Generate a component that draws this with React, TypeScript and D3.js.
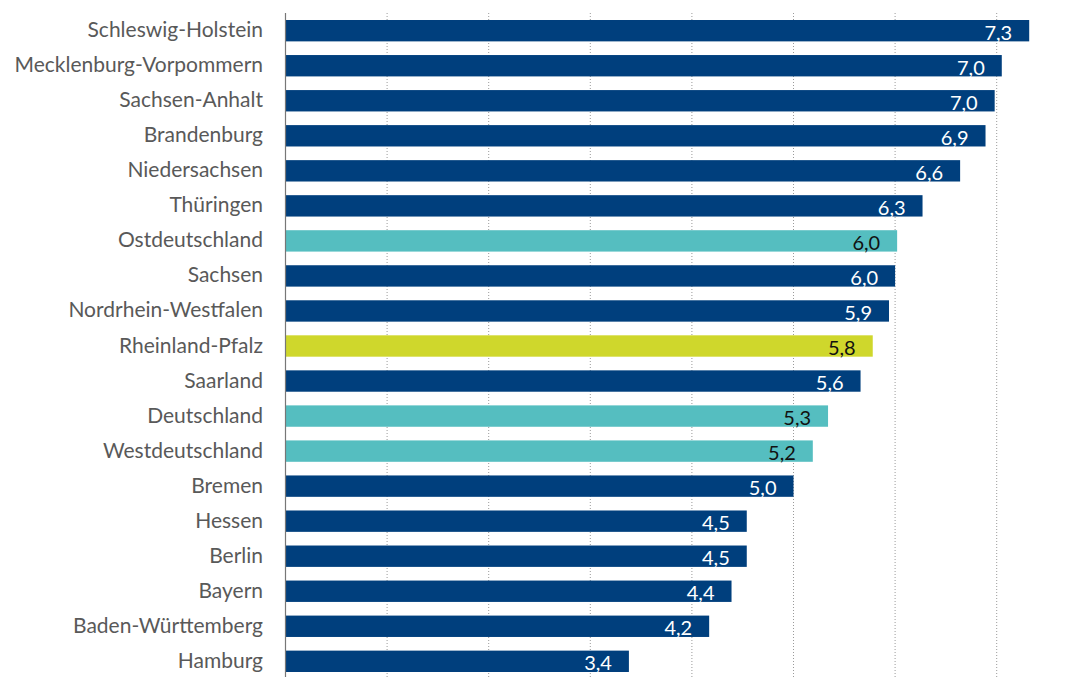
import React from 'react';
import { scaleLinear, scaleBand, range } from 'd3';

const regions = [
  'Schleswig-Holstein', 'Mecklenburg-Vorpommern', 'Sachsen-Anhalt', 'Brandenburg',
  'Niedersachsen', 'Thüringen', 'Ostdeutschland', 'Sachsen', 'Nordrhein-Westfalen',
  'Rheinland-Pfalz', 'Saarland', 'Deutschland', 'Westdeutschland', 'Bremen',
  'Hessen', 'Berlin', 'Bayern', 'Baden-Württemberg', 'Hamburg',
];
const values = [
  7.32, 7.05, 6.98, 6.89, 6.64, 6.27, 6.02, 6.0, 5.94, 5.78,
  5.66, 5.34, 5.19, 5.0, 4.54, 4.54, 4.39, 4.17, 3.38,
];
const valueLabels = [
  '7,3', '7,0', '7,0', '6,9', '6,6', '6,3', '6,0', '6,0', '5,9', '5,8',
  '5,6', '5,3', '5,2', '5,0', '4,5', '4,5', '4,4', '4,2', '3,4',
];
// kind: 0 = Bundesland, 1 = Aggregat, 2 = hervorgehoben
const kinds = [0, 0, 0, 0, 0, 0, 1, 0, 0, 2, 0, 1, 1, 0, 0, 0, 0, 0, 0];
const gridTicks = range(1, 8);

const fills = ['#003f7d', '#55bec0', '#cfd72c'];
const labelColors = ['#ffffff', '#111111', '#111111'];

const App: React.FC = () => {
  const width = 1087;
  const height = 677;
  const x = scaleLinear([0, 1], [285.5, 387.1]);
  const y = scaleBand(regions, [13, 679]).paddingInner(0.39).paddingOuter(0.2);
  const font = 'Lato, "Noto Sans", sans-serif';

  return (
    <svg width={width} height={height} style={{ position: 'absolute', left: 0, top: 0, background: '#fff' }}>
      {gridTicks.map(t => (
        <line key={t} x1={x(t)} x2={x(t)} y1={13} y2={height}
          stroke="#9a9a9a" strokeWidth={1} strokeDasharray="1,2" />
      ))}
      {regions.map((r, i) => {
        const yy = y(r)!;
        const bw = y.bandwidth();
        return (
          <g key={r}>
            <rect x={x(0)} y={yy} width={x(values[i]) - x(0)} height={bw} fill={fills[kinds[i]]} />
            <text x={263} y={yy + bw / 2 + 6.5} textAnchor="end" fontFamily={font}
              fontSize={21} fill="#595959">{r}</text>
            <text x={x(values[i]) - 17} y={yy + bw - 1.5} textAnchor="end" fontFamily={font}
              fontSize={20} fill={labelColors[kinds[i]]}>{valueLabels[i]}</text>
          </g>
        );
      })}
      <line x1={x(0)} x2={x(0)} y1={13} y2={height} stroke="#777777" strokeWidth={1.2} />
    </svg>
  );
};

export default App;
